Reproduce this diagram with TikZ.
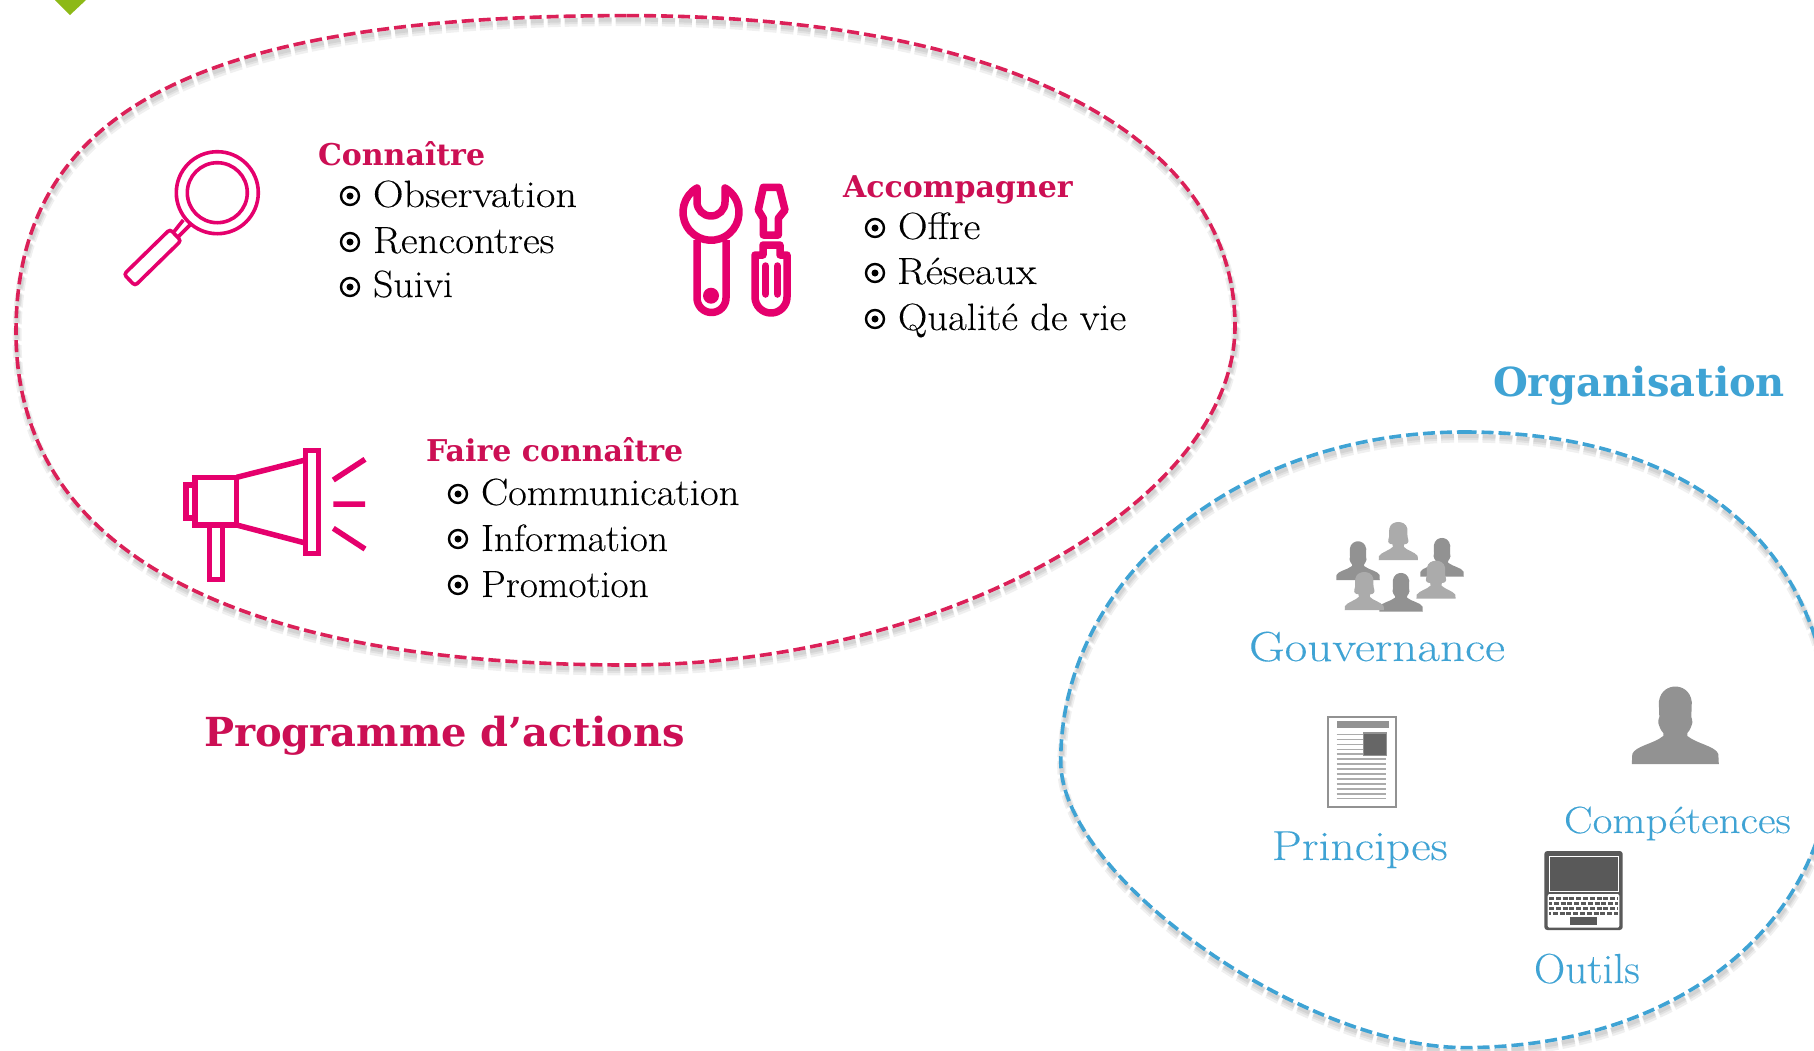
\documentclass[tikz,border=0pt]{standalone}
\usepackage{fontspec}
\newfontfamily\headfont{DejaVu Serif}[BoldFont={DejaVu Serif Bold}]
\newfontfamily\bodyfont{Latin Modern Roman}[FakeBold=0.15]
\definecolor{headpink}{HTML}{CC0F54}
\definecolor{iconpink}{HTML}{E5006D}
\definecolor{dashpink}{HTML}{DB2058}
\definecolor{orgblue}{HTML}{3FA3D4}
\definecolor{leaf}{HTML}{8DB917}
\definecolor{male}{HTML}{929292}
\definecolor{female}{HTML}{ABABAB}
\newcommand{\PT}[1]{\fontsize{#1}{#1}\selectfont}
\newcommand{\stretched}[2]{{\addfontfeature{FakeStretch=#1}#2}}
\newcommand{\pinkpath}{(627,15.6) .. controls (1004,15.6) and (1235,134) .. (1235,326) .. controls (1235,502) and (943,665) .. (627,665) .. controls (230,665) and (16,548) .. (16,332) .. controls (16,111) and (199,15.6) .. (627,15.6) -- cycle}
\newcommand{\bluepath}{(1464.5,432) .. controls (1696,432) and (1832,550) .. (1832,750) .. controls (1832,923) and (1678,1047.6) .. (1464.5,1047.6) .. controls (1303,1047.6) and (1060.7,876) .. (1060.7,761.5) .. controls (1060.7,577) and (1238,432) .. (1464.5,432) -- cycle}
\newcommand{\maleperson}[3]{\fill[male,shift={(#1,#2)},scale=#3] (-43.5,0) -- (-43,-10) .. controls (-40,-18) and (-22,-20) .. (-12,-28) -- (-12,-31) .. controls (-15,-34) and (-16,-38) .. (-17,-41) .. controls (-17,-43) and (-17,-45) .. (-16,-47) -- (-16.5,-62) .. controls (-15,-74) and (-6,-77.5) .. (0,-77.5) .. controls (6,-77.5) and (15,-74) .. (16.5,-62) -- (16,-47) .. controls (17,-45) and (17,-43) .. (17,-41) .. controls (16,-38) and (15,-34) .. (12,-31) -- (12,-28) .. controls (22,-20) and (40,-18) .. (43,-10) -- (43.5,0) -- cycle;}
\newcommand{\femaleperson}[3]{\fill[female,shift={(#1,#2)},xscale=#3,yscale=1.09*#3] (-43.5,0) -- (-43,-8) .. controls (-38,-16) and (-18,-20) .. (-12,-27) -- (-13,-32) .. controls (-20,-32) and (-24,-36) .. (-22,-42) .. controls (-19,-48) and (-21,-58) .. (-20,-64) .. controls (-18,-74) and (-8,-77.5) .. (0,-77.5) .. controls (8,-77.5) and (18,-74) .. (20,-64) .. controls (21,-58) and (19,-48) .. (22,-42) .. controls (24,-36) and (20,-32) .. (13,-32) -- (12,-27) .. controls (18,-20) and (38,-16) .. (43,-8) -- (43.5,0) -- cycle;}
\tikzset{
  head/.style={anchor=base west,inner sep=0pt,outer sep=0pt,text=headpink,font=\headfont\bfseries\PT{30}},
  item/.style={anchor=base west,inner sep=0pt,outer sep=0pt,text=black,font=\bodyfont\PT{38}},
  org/.style={anchor=base west,inner sep=0pt,outer sep=0pt,text=orgblue,font=\bodyfont\PT{42}},
  bigpink/.style={anchor=base west,inner sep=0pt,outer sep=0pt,text=headpink,font=\headfont\bfseries\PT{40}},
  bigblue/.style={anchor=base west,inner sep=0pt,outer sep=0pt,text=orgblue,font=\headfont\bfseries\PT{40}},
  bulletring/.style={draw=black,line width=2.4pt,fill=white,circle,minimum size=18pt,inner sep=0pt},
  bulletdot/.style={fill=black,circle,minimum size=7pt,inner sep=0pt},
  iconline/.style={draw=iconpink,line width=3.6pt},
  iconbold/.style={draw=iconpink,line width=7.5pt,line join=round},
  dashes/.style={line width=3.6pt,dash pattern=on 12pt off 5pt},
  shade/.style={draw=black,opacity=.06,dash pattern=on 13pt off 4pt},
}
\newcommand{\bul}[3]{\node[bulletring] (#3) at (#1,#2) {}; \node[bulletdot] (#3d) at (#1,#2) {};}
\begin{document}
\begin{tikzpicture}[x=1pt,y=-1pt,line cap=butt]
\useasboundingbox (0,0) rectangle (1814,1050);
\fill[white] (0,0) rectangle (1814,1050);
\fill[leaf] (55,0) -- (70,15) -- (86,0) -- cycle;
% shadows and outlines
\foreach \w/\dy in {9/6,6/5,4/4}{
 \begin{scope}[yshift=-\dy pt,xshift=1pt]
 \draw[shade,line width=\w pt] \pinkpath;
 \draw[shade,line width=\w pt] \bluepath;
 \end{scope}
}
\draw[dashpink,dashes] \pinkpath;
\draw[orgblue,dashes] \bluepath;
% magnifier
\draw[iconline] (217.3,192.7) circle [radius=41pt];
\draw[iconline] (217.3,192.7) circle [radius=30pt];
\draw[iconline] (174,231.7) -- (183.3,220) (178.3,236.7) -- (190,225);
\draw[iconline,rounded corners=3pt] (170,229.3) -- (181,240.7) -- (135,285.7) -- (124,274.3) -- cycle;
% wrench
\draw[iconbold] (697,188) arc[start angle=120,end angle=420,radius=28pt] -- (725,202) arc[start angle=0,end angle=-180,radius=14pt] -- cycle;
\draw[iconbold] (697,240) -- (697,298) arc[start angle=180,end angle=360,radius=14.5pt] -- (726,240);
\fill[iconpink] (711,295.7) circle [radius=8pt];
% screwdriver
\draw[iconbold] (763.3,187.3) -- (779.3,187.3) -- (785,210) -- (778.3,218.3) -- (778.3,235) -- (763.3,235) -- (763.3,218.3) -- (758.3,210) -- cycle;
\draw[iconbold] (755,255) -- (763,255) -- (763,245) -- (780,245) -- (780,255) -- (787,255) -- (787,297) arc[start angle=0,end angle=-180,radius=16pt] -- cycle;
\draw[iconbold,line cap=round] (765.7,266) -- (765.7,294) (777.3,266) -- (777.3,294);
% megaphone
\tikzset{mega/.style={draw=iconpink,line width=5.5pt,line join=miter}}
\draw[mega] (186,485) rectangle (195,518);
\draw[mega] (195,477.3) rectangle (236.7,525);
\draw[mega] (236.7,477.3) -- (305.3,460) (236.7,525) -- (305.3,543);
\draw[mega] (305.3,450.7) rectangle (318.3,553.3);
\draw[mega] (209.3,525) rectangle (222.3,579.7);
\draw[mega] (333.3,480) -- (365,459.3) (333.3,504) -- (365,504) (333.3,528.3) -- (365,549);
% people
\maleperson{1358}{580}{.5}
\maleperson{1442}{576.7}{.5}
\femaleperson{1398.3}{560}{.45}
\femaleperson{1436}{598.7}{.45}
\maleperson{1401}{611.7}{.5}
\femaleperson{1364.3}{610}{.45}
\maleperson{1675.3}{764}{1}
% document
\draw[male,line width=2pt] (1328,717) rectangle (1395.5,807);
\fill[male] (1336.7,720.7) rectangle (1389.3,728.3);
\foreach \y in {734.3,739.3,744.3,749.3,754}{\draw[female,line width=1.3pt] (1336.7,\y) -- (1362.7,\y);}
\foreach \y in {759,764,769,774,779,784,789,794,798.7}{\draw[female,line width=1.5pt] (1336.7,\y) -- (1386,\y);}
\draw[male,fill=black!60,line width=1.2pt] (1363.3,732.9) rectangle (1386.2,755.4);
% laptop
\fill[black!65,rounded corners=3pt] (1544.3,851) rectangle (1622.7,930);
\draw[white,line width=1pt] (1549,856) rectangle (1618.3,891.7);
\fill[white,rounded corners=2pt] (1547.7,894) rectangle (1619.3,927.7);
\foreach \y/\p in {898/0,903/2,908/0,913/3}{\draw[black!65,line width=3pt,dash pattern=on 5pt off 1.8pt,dash phase=\p pt] (1549,\y) -- (1618,\y);}
\fill[black!65] (1570,917) rectangle (1597.3,925);
% texts
\node[head] (connaitre) at (318,165) {Connaître};
\bul{350}{196}{b1}\node[item] (observation) at (373,207) {\stretched{1.115}{Observation}};
\bul{350}{242}{b2}\node[item] (rencontres) at (373,253) {\stretched{1.08}{Rencontres}};
\bul{350}{287}{b3}\node[item] (suivi) at (373,297) {\stretched{1.05}{Suivi}};
\node[head] (accompagner) at (843,197) {Accompagner};
\bul{875}{228}{b4}\node[item] (offre) at (898,239) {\stretched{1.08}{Offre}};
\bul{875}{273}{b5}\node[item] (reseaux) at (897,284) {\stretched{1.11}{Réseaux}};
\bul{875}{319}{b6}\node[item] (qualite) at (898,330) {\stretched{1.07}{Qualité de vie}};
\node[head] (faire) at (426,461) {Faire connaître};
\bul{458}{494}{b7}\node[item] (communication) at (481,505) {\stretched{1.07}{Communication}};
\bul{458}{539}{b8}\node[item] (information) at (481,551) {\stretched{1.04}{Information}};
\bul{458}{585}{b9}\node[item] (promotion) at (481,597) {\stretched{1.04}{Promotion}};
\node[bigpink] (programme) at (204,746) {Programme d’actions};
\node[bigblue] (organisation) at (1493,396) {Organisation};
\node[org] (gouvernance) at (1249,661) {\stretched{1.17}{Gouvernance}};
\node[org] (principes) at (1272,860) {\stretched{1.13}{Principes}};
\node[org,font=\bodyfont\PT{38}] (competences) at (1564,833) {\stretched{1.13}{Compétences}};
\node[org] (outils) at (1534,983) {\stretched{1.03}{Outils}};
\end{tikzpicture}
\end{document}
